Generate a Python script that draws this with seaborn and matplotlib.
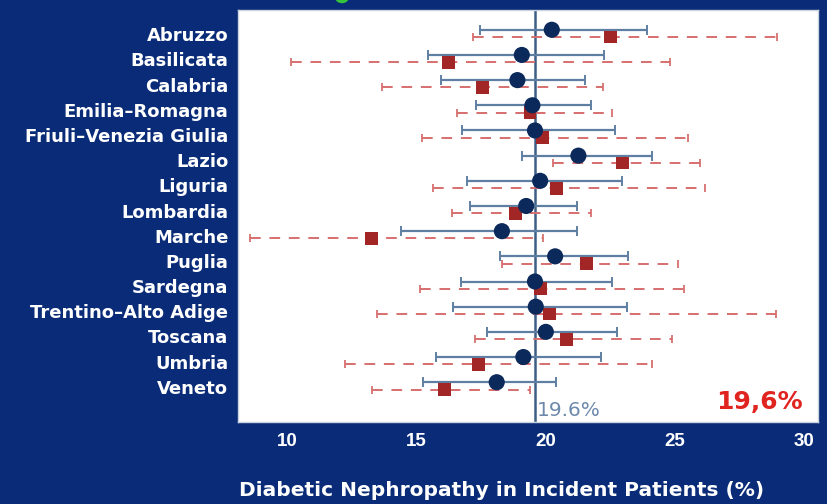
import numpy as np
import pandas as pd
import matplotlib
matplotlib.use("Agg")
import matplotlib.pyplot as plt
from matplotlib.patches import Ellipse
import seaborn as sns

# ---------------- data ----------------
regions = ["Abruzzo", "Basilicata", "Calabria", "Emilia–Romagna",
           "Friuli–Venezia Giulia", "Lazio", "Liguria", "Lombardia",
           "Marche", "Puglia", "Sardegna", "Trentino–Alto Adige",
           "Toscana", "Umbria", "Veneto"]

blue_est = [20.24, 19.08, 18.91, 19.49, 19.59, 21.27, 19.79, 19.25, 18.31, 20.37, 19.59, 19.62, 20.01, 19.14, 18.11]
blue_lo  = [17.47, 15.47, 15.94, 17.31, 16.78, 19.08, 16.95, 17.08, 14.40, 18.24, 16.72, 16.40, 17.72, 15.75, 15.25]
blue_hi  = [23.91, 22.26, 21.53, 21.75, 22.69, 24.13, 22.95, 21.23, 21.23, 23.20, 22.58, 23.14, 22.78, 22.14, 20.39]

red_est = [22.50, 16.24, 17.56, 19.40, 19.89, 22.99, 20.43, 18.85, 13.28, 21.57, 19.79, 20.15, 20.82, 17.40, 16.09]
red_lo  = [17.18, 10.15, 13.66, 16.59, 15.21, 20.30, 15.66, 16.37, 8.57, 18.31, 15.14, 13.47, 17.27, 12.24, 13.28]
red_hi  = [28.94, 24.82, 22.24, 22.56, 25.52, 25.98, 26.17, 21.75, 19.89, 25.14, 25.36, 28.90, 24.88, 24.11, 19.40]

overall = 19.6
xticks = [10, 15, 20, 25, 30]
xlabel = "Diabetic Nephropathy in Incident Patients (%)"
ref_label = "19.6%"
big_label = "19,6%"

# ---------------- style ----------------
NAVY = "#0a2c78"
BLUE_DOT = "#0b295a"
BLUE_LINE = "#5f7fa2"
RED_DOT = "#a32626"
RED_LINE = "#d76f6f"

sns.set_style("white")
plt.rcParams["font.family"] = ["DejaVu Sans"]

df = pd.DataFrame({
    "region": regions,
    "pos": np.arange(len(regions), dtype=float),
    "b_est": blue_est, "b_lo": blue_lo, "b_hi": blue_hi,
    "r_est": red_est, "r_lo": red_lo, "r_hi": red_hi,
})
df["yb"] = df["pos"] - 0.18
df["yr"] = df["pos"] + 0.11

fig = plt.figure(figsize=(8.27, 5.04), dpi=100, facecolor=NAVY)
ax = fig.add_axes([238 / 827, 1 - 422 / 504, 580 / 827, 412 / 504])
ax.set_facecolor("white")

# red (dashed) intervals
eb = ax.errorbar(df["r_est"], df["yr"],
                 xerr=[df["r_est"] - df["r_lo"], df["r_hi"] - df["r_est"]],
                 fmt="none", ecolor=RED_LINE, elinewidth=1.4, capsize=3,
                 capthick=1.3, zorder=2)
eb[2][0].set_linestyle((0, (5.5, 4.5)))

# blue (solid) intervals
ax.errorbar(df["b_est"], df["yb"],
            xerr=[df["b_est"] - df["b_lo"], df["b_hi"] - df["b_est"]],
            fmt="none", ecolor=BLUE_LINE, elinewidth=1.6, capsize=3.5,
            capthick=1.4, zorder=2)

ax.axvline(overall, color="#3d5f86", lw=1.8, zorder=1)

sns.scatterplot(data=df, x="r_est", y="yr", marker="s", s=85, color=RED_DOT,
                edgecolor="none", linewidth=0, ax=ax, zorder=3, legend=False)
sns.scatterplot(data=df, x="b_est", y="yb", marker="o", s=135, color=BLUE_DOT,
                edgecolor="none", linewidth=0, ax=ax, zorder=4, legend=False)

ax.set_xlim(8.1, 30.54)
ax.set_ylim(15.40, -0.965)
ax.set_yticks(df["pos"])
ax.set_yticklabels(regions, color="white", fontsize=13, fontweight="bold")
ax.set_xticks(xticks)
ax.set_xticklabels([str(t) for t in xticks], color="white", fontsize=13.5,
                   fontweight="bold", family="Liberation Sans")
ax.tick_params(axis="both", direction="out", length=5, width=1.2,
               colors="white", pad=2)
ax.tick_params(axis="y", labelcolor="white")
ax.tick_params(axis="x", labelcolor="white", pad=3)
ax.set_xlabel("")
ax.set_ylabel("")
for s in ax.spines.values():
    s.set_color("#c9d2de")
    s.set_linewidth(1)

ax.text(overall + 0.07, 14.95, ref_label, color="#6d8aab", fontsize=14.5,
        ha="left", va="center")
ax.text(26.6, 14.6, big_label, color="#e0241f", fontsize=18,
        fontweight="bold", ha="left", va="center")

fig.text(502 / 827, 1 - 490 / 504, xlabel, color="white", fontsize=14.5,
         fontweight="bold", ha="center", va="center")

# sliver of green title mark at the top edge
fig.patches.append(Ellipse((342 / 827, 1 + 2 / 504), 12 / 827, 9 / 504,
                           transform=fig.transFigure, color="#35c43a",
                           zorder=5))

fig.savefig("out.png", dpi=100, facecolor=NAVY)
